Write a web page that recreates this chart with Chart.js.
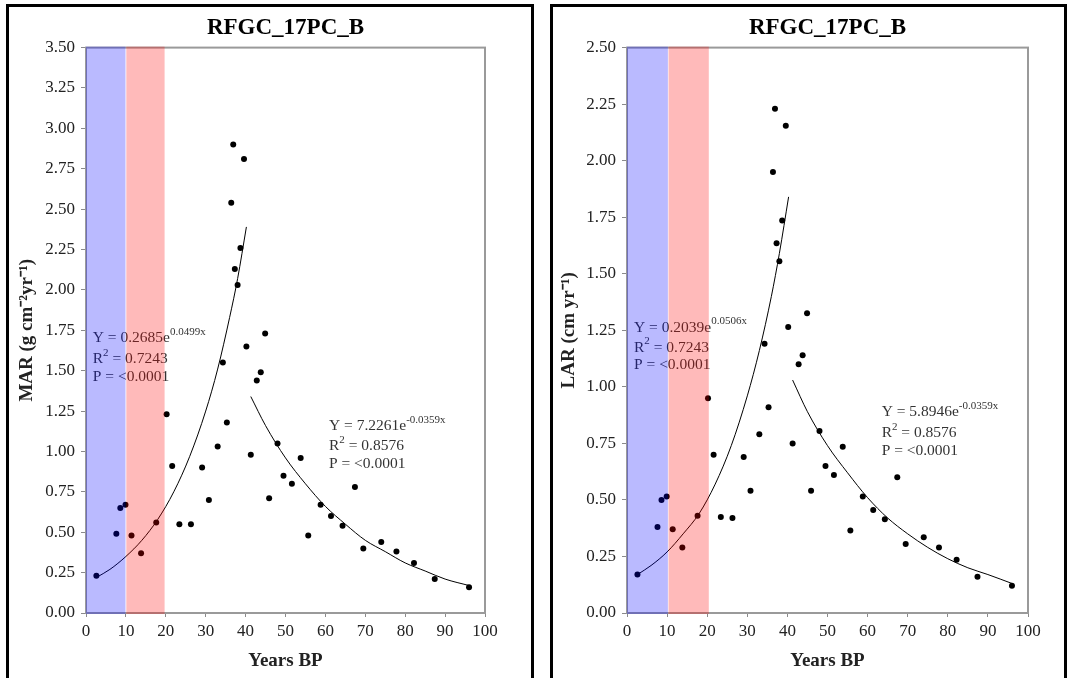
<!DOCTYPE html>
<html>
<head>
<meta charset="utf-8">
<script src="https://cdn.jsdelivr.net/npm/chart.js@4.4.1/dist/chart.umd.min.js"></script>
<style>
  html, body { margin:0; padding:0; background:#fff; width:1068px; height:678px; overflow:hidden; }
  .panel { position:absolute; border:3px solid #000; box-sizing:border-box; background:#fff; }
  canvas { position:absolute; }
</style>
</head>
<body>
<div class="panel" style="left:6px; top:4px; width:528px; height:700px;"></div>
<div class="panel" style="left:550px; top:4px; width:517px; height:700px;"></div>
<canvas id="c1" width="518" height="668" style="left:10px; top:8px; width:518px; height:668px;"></canvas>
<canvas id="c2" width="508" height="668" style="left:555px; top:8px; width:508px; height:668px;"></canvas>
<script>
// ---------------- data ----------------
const chartTitle = "RFGC_17PC_B";
const xAxisTitle = "Years BP";
const marAxisTitle = "MAR (g cm\u207B\u00B2yr\u207B\u00B9)";
const larAxisTitle = "LAR (cm yr\u207B\u00B9)";

const yearsBP = [2.6, 7.6, 8.6, 9.9, 11.4, 13.8, 17.6, 20.2, 21.6, 23.4, 26.3, 29.1, 30.8, 33.0, 34.3,
  35.3, 36.4, 36.9, 37.3, 38.0, 38.7, 39.6, 40.2, 41.3, 42.8, 43.8, 44.9, 45.9, 48.0, 49.5,
  51.6, 53.8, 55.7, 58.8, 61.4, 64.3, 67.4, 69.5, 74.0, 77.8, 82.2, 87.4, 96.0];

const marValues = [0.23, 0.49, 0.65, 0.67, 0.48, 0.37, 0.56, 1.23, 0.91, 0.55, 0.55, 0.90, 0.70, 1.03, 1.55,
  1.18, 2.54, 2.90, 2.13, 2.03, 2.26, 2.81, 1.65, 0.98, 1.44, 1.49, 1.73, 0.71, 1.05, 0.85,
  0.80, 0.96, 0.48, 0.67, 0.60, 0.54, 0.78, 0.40, 0.44, 0.38, 0.31, 0.21, 0.16];

const larValues = [0.17, 0.38, 0.50, 0.515, 0.37, 0.29, 0.43, 0.95, 0.70, 0.425, 0.42, 0.69, 0.54, 0.79, 1.19,
  0.91, 1.95, 2.23, 1.635, 1.555, 1.735, 2.155, 1.265, 0.75, 1.10, 1.14, 1.325, 0.54, 0.805, 0.65,
  0.61, 0.735, 0.365, 0.515, 0.455, 0.415, 0.60, 0.305, 0.335, 0.29, 0.235, 0.16, 0.12];

// trend curves
const marGrowthX = [2.6, 6, 10, 14, 18, 22, 26, 30, 33, 36, 38, 40.2];
const marGrowthY = [0.22, 0.27, 0.35, 0.45, 0.58, 0.75, 0.97, 1.25, 1.51, 1.83, 2.07, 2.39];
const marDecayX = [41.3, 45, 50, 55, 60, 65, 70, 75, 80, 85, 90, 96];
const marDecayY = [1.34, 1.16, 0.96, 0.80, 0.66, 0.55, 0.45, 0.38, 0.31, 0.26, 0.21, 0.17];
const larGrowthX = [2.6, 6, 10, 14, 18, 22, 26, 30, 33, 36, 38, 40.3];
const larGrowthY = [0.17, 0.21, 0.27, 0.35, 0.44, 0.57, 0.74, 0.96, 1.16, 1.40, 1.59, 1.84];
const larDecayX = [41.3, 45, 50, 55, 60, 65, 70, 75, 80, 85, 90, 96.1];
const larDecayY = [1.03, 0.89, 0.74, 0.62, 0.51, 0.42, 0.35, 0.29, 0.24, 0.20, 0.17, 0.13];

// shaded periods [from, to] in years BP
const marBlueBand = [0, 9.9];
const marPinkBand = [10.1, 19.7];
const larBlueBand = [0, 10.2];
const larPinkBand = [10.35, 20.4];

// axis ranges / tick steps
const xTicks = [0, 100, 10];
const marTicks = [0, 3.5, 0.25];
const larTicks = [0, 2.5, 0.25];

// fit annotations: [x, y, segments]  (segment: [text, isSuperscript])
const marNotes = [
  [1.7, 1.70, [["Y = 0.2685e", false], ["0.0499x", true]]],
  [1.7, 1.57, [["R", false], ["2", true], [" = 0.7243", false]]],
  [1.7, 1.46, [["P = <0.0001", false]]],
  [60.9, 1.16, [["Y = 7.2261e", false], ["-0.0359x", true]]],
  [60.9, 1.035, [["R", false], ["2", true], [" = 0.8576", false]]],
  [60.9, 0.92, [["P = <0.0001", false]]]
];
const larNotes = [
  [1.75, 1.262, [["Y = 0.2039e", false], ["0.0506x", true]]],
  [1.75, 1.174, [["R", false], ["2", true], [" = 0.7243", false]]],
  [1.75, 1.097, [["P = <0.0001", false]]],
  [63.5, 0.888, [["Y = 5.8946e", false], ["-0.0359x", true]]],
  [63.5, 0.797, [["R", false], ["2", true], [" = 0.8576", false]]],
  [63.5, 0.717, [["P = <0.0001", false]]]
];

// ---------------- drawing ----------------
const SERIF = '"Liberation Serif", "Times New Roman", serif';

const framePlugin = {
  id: 'frame',
  beforeDatasetsDraw(chart) {
    const {ctx, chartArea: a} = chart;
    ctx.save();
    ctx.strokeStyle = '#9a9a9a';
    ctx.lineWidth = 2;
    ctx.strokeRect(a.left, a.top, a.right - a.left, a.bottom - a.top);
    ctx.restore();
  }
};

const overlayPlugin = {
  id: 'overlay',
  afterDatasetsDraw(chart, args, opts) {
    const {ctx, chartArea: a, scales: {x, y}} = chart;
    ctx.save();
    // annotations
    ctx.fillStyle = '#333333';
    ctx.textBaseline = 'middle';
    opts.notes.forEach(([nx, ny, segs]) => {
      let px = x.getPixelForValue(nx);
      const py = y.getPixelForValue(ny);
      segs.forEach(([t, sup]) => {
        ctx.font = (sup ? '11px ' : '15.5px ') + SERIF;
        ctx.fillText(t, px, sup ? py - 6 : py);
        px += ctx.measureText(t).width;
      });
    });
    // translucent period bands
    const top = a.top, bottom = a.bottom;
    opts.bands.forEach(([b, color]) => {
      const l = x.getPixelForValue(b[0]);
      const r = x.getPixelForValue(b[1]);
      ctx.fillStyle = color;
      ctx.fillRect(l, top - 1, r - l, bottom - top + 2);
    });
    ctx.restore();
  }
};

function pts(xs, ys) { return xs.map((v, i) => ({x: v, y: ys[i]})); }

function makeChart(id, o) {
  const curveStyle = {showLine: true, pointRadius: 0, borderColor: '#000', borderWidth: 1,
    cubicInterpolationMode: 'monotone', fill: false};
  new Chart(document.getElementById(id), {
    type: 'scatter',
    data: {
      datasets: [
        {data: pts(yearsBP, o.values), pointRadius: 3, pointBackgroundColor: '#000',
         pointBorderColor: '#000', pointBorderWidth: 0, showLine: false},
        Object.assign({data: pts(o.gx, o.gy)}, curveStyle),
        Object.assign({data: pts(o.dx, o.dy)}, curveStyle)
      ]
    },
    options: {
      responsive: false,
      animation: false,
      layout: {padding: {left: 0, right: o.padRight, top: 0, bottom: 0}},
      plugins: {
        legend: {display: false},
        tooltip: {enabled: false},
        title: {display: true, text: chartTitle, fullSize: false, color: '#000',
          font: {family: SERIF, size: 23, weight: 'bold', lineHeight: 1.2},
          padding: {top: 6, bottom: 6}},
        overlay: {notes: o.notes, bands: [[o.blue, 'rgba(0,0,255,0.27)'], [o.pink, 'rgba(255,0,0,0.27)']]}
      },
      scales: {
        x: {
          type: 'linear', min: xTicks[0], max: xTicks[1],
          ticks: {stepSize: xTicks[2], color: '#222', padding: 4,
            font: {family: SERIF, size: 17}, maxRotation: 0},
          grid: {display: true, drawOnChartArea: false, drawTicks: true, tickLength: 4, color: '#8a8a8a'},
          border: {display: false},
          title: {display: true, text: xAxisTitle, color: '#222',
            font: {family: SERIF, size: 19, weight: 'bold', lineHeight: 1.2}, padding: {top: 0, bottom: 4}},
          afterFit(s) { s.height = 63; }
        },
        y: {
          type: 'linear', min: o.ticks[0], max: o.ticks[1],
          ticks: {stepSize: o.ticks[2], color: '#222', padding: 6,
            font: {family: SERIF, size: 17}, callback: v => v.toFixed(2)},
          grid: {display: true, drawOnChartArea: false, drawTicks: true, tickLength: 5, color: '#8a8a8a'},
          border: {display: false},
          title: {display: true, text: o.yTitle, color: '#222',
            font: {family: SERIF, size: 19, weight: 'bold', lineHeight: 1.2}, padding: {top: o.yTitlePad, bottom: 0}},
          afterFit(s) { s.width = o.yWidth; }
        }
      }
    },
    plugins: [framePlugin, overlayPlugin]
  });
}

makeChart('c1', {values: marValues, gx: marGrowthX, gy: marGrowthY, dx: marDecayX, dy: marDecayY,
  notes: marNotes, blue: marBlueBand, pink: marPinkBand, ticks: marTicks, yTitle: marAxisTitle,
  yWidth: 76, yTitlePad: 6, padRight: 43});
makeChart('c2', {values: larValues, gx: larGrowthX, gy: larGrowthY, dx: larDecayX, dy: larDecayY,
  notes: larNotes, blue: larBlueBand, pink: larPinkBand, ticks: larTicks, yTitle: larAxisTitle,
  yWidth: 72, yTitlePad: 3, padRight: 35});
</script>
</body>
</html>
